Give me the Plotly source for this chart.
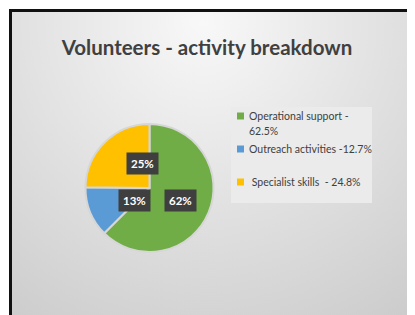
import base64, math
import plotly.graph_objects as go

labels = ["Operational support -<br>62.5%", "Outreach activities -12.7%", "\u00a0Specialist skills \u00a0- 24.8%"]
values = [62.5, 12.7, 24.8]
box_text = ["62%", "13%", "25%"]
colors = ["#70ad47", "#5b9bd5", "#ffc000"]

# figure is placed by the page with an 8px body margin
OFF = 8
W, H = 415 - OFF, 315 - OFF
def fx(p):
    return (p - OFF) / W
def fy(p):
    return 1 - (p - OFF) / H

# pie geometry (page pixels)
PCX, PCY, PR = 149.5, 188, 64
dom_x = [fx(PCX - PR), fx(PCX + PR)]
dom_y = [fy(PCY + PR), fy(PCY - PR)]

svg = f'''<svg xmlns="http://www.w3.org/2000/svg" width="{W}" height="{H}" viewBox="0 0 {W} {H}">
<defs><radialGradient id="g" cx="195" cy="15" r="420" gradientUnits="userSpaceOnUse">
<stop offset="0" stop-color="#f8f8f8"/><stop offset="0.5" stop-color="#dedede"/><stop offset="1" stop-color="#c4c4c4"/></radialGradient></defs>
<rect width="{W}" height="{H}" fill="white"/>
<rect x="2" y="2" width="{W}" height="{H}" fill="url(#g)"/>
</svg>'''
src = "data:image/svg+xml;base64," + base64.b64encode(svg.encode()).decode()

fig = go.Figure(go.Pie(
    labels=labels, values=values, sort=False, direction="clockwise",
    marker=dict(colors=colors, line=dict(color="#d6d6d6", width=2)),
    textinfo="none", hoverinfo="label+percent", domain=dict(x=dom_x, y=dom_y),
    showlegend=False,
))

annotations = []
shapes = []
# label boxes positioned from the slice angles
total = sum(values)
cum = 0
for v, t in zip(values, box_text):
    mid = (cum + v / 2) / total * 2 * math.pi
    cum += v
    px = PCX + 0.53 * PR * math.sin(mid)
    py = PCY - 0.53 * PR * math.cos(mid)
    annotations.append(dict(x=fx(px), y=fy(py), xref="paper", yref="paper", text=f"<b>{t}</b>",
                            showarrow=False, bgcolor="#3f3f3f", borderpad=4,
                            font=dict(family="Lato", size=11.5, color="white")))

# legend box
shapes.append(dict(type="rect", xref="paper", yref="paper", x0=fx(231), x1=fx(372), y0=fy(203), y1=fy(107),
                   fillcolor="#ebebeb", line=dict(width=0), layer="below"))
item_y = [116, 149, 182]
LINE = 15
for lab, col, y0 in zip(labels, colors, item_y):
    shapes.append(dict(type="rect", xref="paper", yref="paper", x0=fx(237), x1=fx(244),
                       y0=fy(y0 + 3.5), y1=fy(y0 - 3.5), fillcolor=col, line=dict(width=0)))
    for i, line in enumerate(lab.split("<br>")):
        annotations.append(dict(x=fx(247), y=fy(y0 + i * LINE), xref="paper", yref="paper", text=line,
                                showarrow=False, xanchor="left", yanchor="middle",
                                font=dict(family="Lato", size=10.5, color="#404040")))

# frame
shapes.append(dict(type="rect", xref="paper", yref="paper", x0=fx(10.5), x1=1.1, y0=-0.1, y1=fy(10.5),
                   line=dict(color="#111111", width=3), layer="above"))

fig.update_layout(
    width=W, height=H, margin=dict(l=0, r=0, t=0, b=0),
    paper_bgcolor="white",
    images=[dict(source=src, xref="paper", yref="paper", x=0, y=1, sizex=1, sizey=1,
                 sizing="stretch", layer="below", xanchor="left", yanchor="top")],
    shapes=shapes,
    title=dict(text="<b>Volunteers - activity breakdown</b>", x=fx(207), xanchor="center",
               y=fy(48), yanchor="middle", font=dict(family="Lato", size=20.5, color="#404040")),
    annotations=annotations,
)
fig.write_html("out.html")
